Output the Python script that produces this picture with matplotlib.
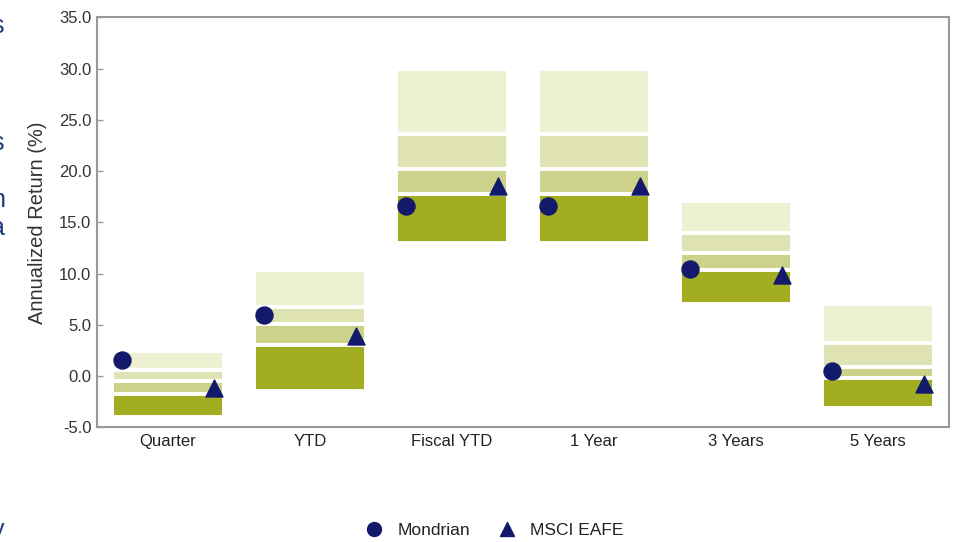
import numpy as np
import matplotlib
matplotlib.use("Agg")
import matplotlib.pyplot as plt
from matplotlib.lines import Line2D

plt.rcParams['font.family'] = ['Liberation Sans', 'DejaVu Sans']

# periods and universe percentiles (5th, 25th, median, 75th, 95th)
periods = ["Quarter", "YTD", "Fiscal YTD", "1 Year", "3 Years", "5 Years"]
p05 = [2.5, 10.35, 30.0, 30.0, 17.1, 7.0]
p25 = [0.58, 6.8, 23.6, 23.6, 14.0, 3.2]
p50 = [-0.44, 5.1, 20.2, 20.2, 12.05, 0.93]
p75 = [-1.75, 3.07, 17.8, 17.8, 10.33, -0.19]
p95 = [-4.0, -1.42, 13.0, 13.0, 7.03, -3.1]

mondrian = [1.63, 6.02, 16.6, 16.6, 10.48, 0.5]
msci_eafe = [-1.13, 3.91, 18.6, 18.6, 9.9, -0.79]

band_colors = ['#EEF0D2', '#DFE3B3', '#CCD28A', '#A3AD22']
navy = '#13196B'

fig = plt.figure(figsize=(9.54, 5.42), dpi=100)
ax = fig.add_axes([0.1017, 0.2113, 0.8931, 0.7565])

x = np.arange(len(periods))
w = 0.79
edges = [p05, p25, p50, p75, p95]
for k in range(4):
    top = np.array(edges[k])
    bot = np.array(edges[k + 1])
    ax.bar(x, top - bot, bottom=bot, width=w, color=band_colors[k],
           edgecolor='white', linewidth=2.8, zorder=2)

ax.scatter(x - w / 2 + 0.07, mondrian, marker='o', s=150, color=navy, zorder=4)
ax.scatter(x + w / 2 - 0.07, msci_eafe, marker='^', s=150, color=navy, zorder=4)

ax.set_xlim(-0.5, 5.5)
ax.set_ylim(-5, 35)
ax.set_yticks(np.arange(-5, 36, 5))
ax.set_yticklabels(["%.1f" % v for v in np.arange(-5, 36, 5)])
ax.set_xticks(x)
ax.set_xticklabels(periods)
ax.tick_params(axis='y', colors='#999999', labelcolor='#333333', labelsize=12,
               length=4, width=1, direction='in', pad=4)
ax.tick_params(axis='x', length=0, labelcolor='#222222', labelsize=12, pad=5)
for s in ax.spines.values():
    s.set_color('#999999')
    s.set_linewidth(1.5)
ax.set_ylabel("Annualized Return (%)", fontsize=14.5, color='#333333', labelpad=9)

handles = [Line2D([], [], marker='o', color=navy, linestyle='none', markersize=10),
           Line2D([], [], marker='^', color=navy, linestyle='none', markersize=10)]
fig.legend(handles, ["Mondrian", "MSCI EAFE"], loc='center', bbox_to_anchor=(0.5137, 0.022),
           ncol=2, frameon=False, fontsize=12.5, handletextpad=0.35, columnspacing=1.1,
           labelcolor='#222222')

# clipped text of the neighbouring slide column
for ch, yy in [("s", 26), ("s", 143), ("n", 200), ("a", 228), ("y", 530)]:
    fig.text(-0.009, 1 - yy / 542, ch, color='#1F3A7A', fontsize=18, va='center', ha='left')

fig.savefig("out.png", dpi=100)
